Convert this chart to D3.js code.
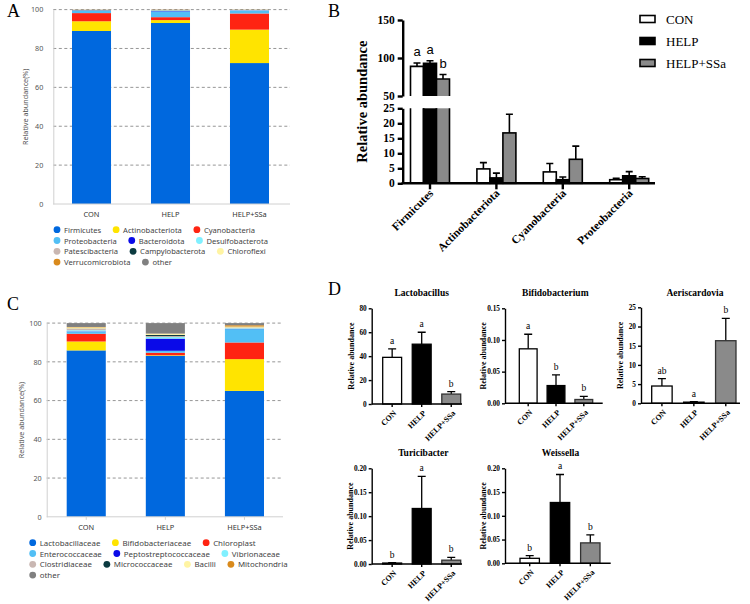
<!DOCTYPE html>
<html><head><meta charset="utf-8">
<script src="https://cdn.jsdelivr.net/npm/d3@7"></script>
<style>body{margin:0;background:#fff}svg{display:block}</style>
</head><body>
<svg id="c" width="750" height="604"></svg>
<script>
// ---------------- DATA ----------------
const groups = ["CON", "HELP", "HELP+SSa"];

// Panel A: phylum-level stacked composition (%)
const phylumNames = ["Firmicutes","Actinobacteriota","Cyanobacteria","Proteobacteria","Bacteroidota","Desulfobacterota","Patescibacteria","Campylobacterota","Chloroflexi","Verrucomicrobiota","other"];
const phylumCON  = [89.0, 5.0, 4.2, 1.2, 0.1, 0.1, 0.1, 0.1, 0.05, 0.05, 0.1];
const phylumHELP = [93.1, 1.5, 1.5, 3.0, 0.2, 0.2, 0.1, 0.1, 0.1, 0.1, 0.1];
const phylumSSa  = [72.5, 17.2, 8.3, 1.5, 0.1, 0.1, 0.1, 0.05, 0.05, 0.05, 0.05];

// Panel C: family-level stacked composition (%)
const familyNames = ["Lactobacillaceae","Bifidobacteriaceae","Chloroplast","Enterococcaceae","Peptostreptococcaceae","Vibrionaceae","Clostridiaceae","Micrococcaceae","Bacilli","Mitochondria","other"];
const familyCON  = [85.9, 4.6, 4.0, 1.0, 0.2, 0.6, 0.8, 0.1, 0.6, 0.2, 2.0];
const familyHELP = [83.1, 0.3, 1.3, 1.0, 6.3, 0.8, 0.5, 0.6, 0.6, 0.1, 5.4];
const familySSa  = [65.0, 16.4, 8.6, 6.9, 0.1, 0.3, 0.3, 0.1, 0.5, 0.7, 1.1];
const stackTicks = [0, 20, 40, 60, 80, 100];

// Panel B: top phyla, mean and SD
const topPhyla = ["Firmicutes","Actinobacteriota","Cyanobacteria","Proteobacteria"];
const bMeanCON  = [89.0, 4.8, 3.8, 1.2];
const bErrCON   = [4.5, 2.1, 2.8, 0.5];
const bMeanHELP = [93.0, 1.8, 1.2, 2.5];
const bErrHELP  = [3.3, 1.6, 0.9, 1.4];
const bMeanSSa  = [72.3, 16.8, 8.0, 1.6];
const bErrSSa   = [5.9, 6.2, 4.4, 0.6];
const bLettersFirmicutes = ["a", "a", "b"];
const bTicksUpper = [50, 100, 150];
const bTicksLower = [0, 5, 10, 15, 20, 25];

// Panel D: genera
const genera = ["Lactobacillus","Bifidobacterium","Aeriscardovia","Turicibacter","Weissella"];
const dMeans = [[39.0, 50.0, 8.3], [0.086, 0.028, 0.006], [4.5, 0.3, 16.3], [0.002, 0.116, 0.008], [0.0105, 0.128, 0.043]];
const dErrors = [[7.0, 10.0, 2.0], [0.023, 0.017, 0.005], [1.9, 0.15, 5.8], [0.001, 0.067, 0.006], [0.0055, 0.059, 0.017]];
const dLetters = [["a","a","b"], ["a","b","b"], ["ab","a","b"], ["b","a","b"], ["b","a","b"]];
const dTicks = [[0,20,40,60,80], [0,0.05,0.10,0.15], [0,5,10,15,20,25], [0,0.05,0.10,0.15,0.20], [0,0.05,0.10,0.15,0.20]];

// ---------------- STYLE ----------------
const palette = ["#0068de","#ffe400","#ff2412","#52bff5","#0a0ae8","#80f0ff","#c9b7b2","#0b3a40","#fff4a3","#d98a1c","#808080"];
const groupFill = ["#ffffff", "#000000", "#8a8a8a"];
const serif = "'Liberation Serif','Times New Roman',serif";
const sans = "'Noto Sans','Open Sans',sans-serif";
const svg = d3.select("#c");

// ---------------- STACKED PANELS (A, C) ----------------
function stackedPanel(o) {
  const g = svg.append("g");
  const y = d3.scaleLinear().domain([0, 100]).range([o.yBase, o.yTop]);
  const x = d3.scaleBand().domain(groups).range([o.r0, o.r1]).paddingInner(0.506);

  g.selectAll("line.grid").data(stackTicks.slice(1)).join("line")
    .attr("x1", o.x0).attr("x2", o.xEnd)
    .attr("y1", d => y(d)).attr("y2", d => y(d))
    .attr("stroke", "#8a8a8a").attr("stroke-width", 0.9).attr("stroke-dasharray", "3,2.5");

  const rows = groups.map((gr, i) => {
    const r = { group: gr };
    o.names.forEach((n, j) => r[n] = o.values[i][j]);
    return r;
  });
  const series = d3.stack().keys(o.names)(rows);
  g.selectAll("g.s").data(series).join("g").attr("fill", (d, i) => palette[i])
    .selectAll("rect").data(d => d).join("rect")
    .attr("x", d => x(d.data.group)).attr("width", x.bandwidth())
    .attr("y", d => y(d[1])).attr("height", d => Math.max(0, y(d[0]) - y(d[1])));

  const ya = g.append("g").attr("transform", `translate(${o.x0},0)`)
    .call(d3.axisLeft(y).tickValues(stackTicks).tickSize(0).tickPadding(o.tickPad));
  ya.select(".domain").attr("stroke", "#d0d0d0");
  ya.selectAll("text").attr("font-family", sans).attr("font-size", 7.2).attr("fill", "#555");

  const xa = g.append("g").attr("transform", `translate(0,${o.yBase})`)
    .call(d3.axisBottom(x).tickSize(o.xTick).tickPadding(o.xPad).tickSizeOuter(0));
  xa.select(".domain").attr("d", `M${o.x0},0H${o.xEnd}`).attr("stroke", "#d0d0d0");
  xa.selectAll("line").attr("stroke", "#d0d0d0");
  xa.selectAll("text").attr("font-family", sans).attr("font-size", 7.4).attr("fill", "#333");

  g.append("text").attr("transform", `translate(${o.yLabelX},${(o.yBase + o.yTop) / 2}) rotate(-90)`)
    .attr("text-anchor", "middle").attr("dominant-baseline", "central")
    .attr("font-family", sans).attr("font-size", 7.2).attr("fill", "#555")
    .text("Relative abundance(%)");

  // legend: flowing rows
  let idx = 0;
  o.legRows.forEach((n, r) => {
    let cx = o.legX0;
    const yy = o.legY + r * o.legDy;
    for (let q = 0; q < n; q++, idx++) {
      g.append("circle").attr("cx", cx).attr("cy", yy).attr("r", 3.4).attr("fill", palette[idx]);
      const t = g.append("text").attr("x", cx + 7).attr("y", yy).attr("dominant-baseline", "central")
        .attr("font-family", sans).attr("font-size", o.legFont).attr("fill", "#444").text(o.names[idx]);
      cx = cx + 7 + t.node().getComputedTextLength() + 15;
    }
  });
}

stackedPanel({ names: phylumNames, values: [phylumCON, phylumHELP, phylumSSa],
  x0: 53.3, xEnd: 290, r0: 72, r1: 269, yBase: 204, yTop: 9.6, tickPad: 10, xTick: 0, xPad: 8,
  yLabelX: 25, legY: 229.7, legDy: 10.8, legX0: 57, legRows: [3, 3, 3, 2], legFont: 7.6 });

stackedPanel({ names: familyNames, values: [familyCON, familyHELP, familySSa],
  x0: 46.7, xEnd: 283, r0: 66.7, r1: 264, yBase: 516.8, yTop: 323.1, tickPad: 5, xTick: 3, xPad: 5,
  yLabelX: 21, legY: 542.7, legDy: 10.8, legX0: 32.7, legRows: [3, 3, 4, 1], legFont: 7.9 });

// ---------------- PANEL B ----------------
(function () {
  const g = svg.append("g");
  const xB = d3.scaleBand().domain(topPhyla).range([396.8, 662.4]);
  const xIn = d3.scaleBand().domain(groups).range([0, 39]);
  const yUp = d3.scaleLinear().domain([50, 150]).range([96, 20]);
  const yLo = d3.scaleLinear().domain([0, 25]).range([183.3, 108.3]);
  const means = [bMeanCON, bMeanHELP, bMeanSSa];
  const errs = [bErrCON, bErrHELP, bErrSSa];

  const bars = [];
  topPhyla.forEach((p, i) => groups.forEach((gr, j) => bars.push({ p, gr, j, v: means[j][i], e: errs[j][i] })));
  const bx = d => xB(d.p) + xB.bandwidth() / 2 - 19.5 + xIn(d.gr);
  const w = xIn.bandwidth();

  bars.forEach(d => {
    const sc = d.v > 50 ? yUp : yLo;
    const cx = bx(d) + w / 2;
    g.append("path").attr("d", `M${cx},${sc(d.v)}V${sc(d.v + d.e)}M${cx - 3.5},${sc(d.v + d.e)}H${cx + 3.5}`)
      .attr("stroke", "#000").attr("stroke-width", 1.6).attr("fill", "none");
  });

  bars.forEach(d => {
    const x0 = bx(d);
    if (d.v > 25) {
      g.append("rect").attr("x", x0).attr("width", w).attr("y", yLo(25)).attr("height", yLo(0) - yLo(25)).attr("fill", groupFill[d.j]);
      g.append("path").attr("d", `M${x0},${yLo(25)}V${yLo(0)}H${x0 + w}V${yLo(25)}`)
        .attr("fill", "none").attr("stroke", "#000").attr("stroke-width", 1.6);
      g.append("rect").attr("x", x0).attr("width", w).attr("y", yUp(d.v)).attr("height", yUp(50) - yUp(d.v)).attr("fill", groupFill[d.j]);
      g.append("path").attr("d", `M${x0},${yUp(50)}V${yUp(d.v)}H${x0 + w}V${yUp(50)}`)
        .attr("fill", "none").attr("stroke", "#000").attr("stroke-width", 1.6);
    } else {
      g.append("rect").attr("x", x0).attr("width", w).attr("y", yLo(d.v)).attr("height", yLo(0) - yLo(d.v))
        .attr("fill", groupFill[d.j]).attr("stroke", "#000").attr("stroke-width", 1.6);
    }
  });

  groups.forEach((gr, j) => {
    const d = { p: topPhyla[0], gr };
    g.append("text").attr("x", bx(d) + w / 2).attr("y", yUp(means[j][0] + errs[j][0]) - 7)
      .attr("text-anchor", "middle").attr("font-family", "'Liberation Sans',Arial,sans-serif")
      .attr("font-size", 13).text(bLettersFirmicutes[j]);
  });

  const styleAxis = a => {
    a.selectAll("path,line").attr("stroke", "#000").attr("stroke-width", 2.4);
    a.selectAll("text").attr("font-family", serif).attr("font-weight", "bold").attr("font-size", 11.5).attr("fill", "#000");
  };
  const ya1 = g.append("g").attr("transform", "translate(402.7,0)")
    .call(d3.axisLeft(yUp).tickValues(bTicksUpper).tickSize(5).tickSizeOuter(0).tickPadding(3).tickFormat(d3.format("d")));
  styleAxis(ya1);
  const ya2 = g.append("g").attr("transform", "translate(402.7,0)")
    .call(d3.axisLeft(yLo).tickValues(bTicksLower).tickSize(5).tickSizeOuter(0).tickPadding(3).tickFormat(d3.format("d")));
  styleAxis(ya2);

  const xa = g.append("g").attr("transform", "translate(0,183.3)")
    .call(d3.axisBottom(xB).tickSize(6).tickSizeOuter(0).tickFormat(""));
  xa.select(".domain").attr("d", "M401.5,0H655");
  styleAxis(xa);
  topPhyla.forEach(p => {
    const cx = xB(p) + xB.bandwidth() / 2;
    g.append("text").attr("transform", `translate(${cx + 4},${194}) rotate(-45)`)
      .attr("text-anchor", "end").attr("font-family", serif).attr("font-weight", "bold").attr("font-size", 11.5).text(p);
  });

  g.append("text").attr("transform", `translate(362,${(20 + 183.3) / 2}) rotate(-90)`)
    .attr("text-anchor", "middle").attr("dominant-baseline", "central")
    .attr("font-family", serif).attr("font-weight", "bold").attr("font-size", 14.5).text("Relative abundance");

  const lg = g.selectAll("g.bl").data(groups).join("g").attr("transform", (d, i) => `translate(0,${19 + i * 22})`);
  lg.append("rect").attr("x", 640).attr("y", -3.5).attr("width", 15).attr("height", 7)
    .attr("fill", (d, i) => groupFill[i]).attr("stroke", "#000").attr("stroke-width", 1.6);
  lg.append("text").attr("x", 666).attr("y", 0).attr("dominant-baseline", "central")
    .attr("font-family", serif).attr("font-size", 13).text(d => d);
})();

// ---------------- PANEL D ----------------
const dLayout = [
  { x0: 371.7, r0: 382.7, r1: 460.7, xEnd: 462,   yBase: 404,   yTop: 308.3, tx: 421.7, ty: 292.7, lx: 351.5 },
  { x0: 505,   r0: 519.3, r1: 592.7, xEnd: 602.7, yBase: 403.3, yTop: 308.3, tx: 555.3, ty: 292.7, lx: 483.5 },
  { x0: 641,   r0: 651.7, r1: 736,   xEnd: 740,   yBase: 403.3, yTop: 307.3, tx: 695,   ty: 292.7, lx: 620.5 },
  { x0: 371.7, r0: 382.7, r1: 460.7, xEnd: 462,   yBase: 564,   yTop: 468.3, tx: 423.3, ty: 453.3, lx: 350.5 },
  { x0: 505,   r0: 520,   r1: 600,   xEnd: 610.7, yBase: 563.3, yTop: 468.3, tx: 560.5, ty: 453.3, lx: 483.5 }
];
genera.forEach((name, k) => {
  const L = dLayout[k];
  const g = svg.append("g");
  const ticks = dTicks[k];
  const y = d3.scaleLinear().domain([0, ticks[ticks.length - 1]]).range([L.yBase, L.yTop]);
  const x = d3.scaleBand().domain(groups).range([L.r0, L.r1]).paddingInner(0.36);
  const fmt = ticks[ticks.length - 1] < 1 ? d3.format(".2f") : d3.format("d");

  groups.forEach((gr, j) => {
    const m = dMeans[k][j], e = dErrors[k][j];
    const cx = x(gr) + x.bandwidth() / 2;
    g.append("path").attr("d", `M${cx},${y(m)}V${y(m + e)}M${cx - 4},${y(m + e)}H${cx + 4}`)
      .attr("stroke", "#000").attr("stroke-width", 1.3).attr("fill", "none");
    g.append("rect").attr("x", x(gr)).attr("width", x.bandwidth()).attr("y", y(m)).attr("height", y(0) - y(m))
      .attr("fill", groupFill[j]).attr("stroke", j === 2 ? "#333" : "#000").attr("stroke-width", 1.3);
    g.append("text").attr("x", cx).attr("y", y(m + e) - 5).attr("text-anchor", "middle")
      .attr("font-family", serif).attr("font-size", 9.5).text(dLetters[k][j]);
    g.append("text").attr("transform", `translate(${cx + 3},${L.yBase + 8}) rotate(-45)`)
      .attr("text-anchor", "end").attr("dy", "0.3em")
      .attr("font-family", serif).attr("font-weight", "bold").attr("font-size", 8).text(gr);
  });

  const ya = g.append("g").attr("transform", `translate(${L.x0},0)`)
    .call(d3.axisLeft(y).tickValues(ticks).tickSize(3).tickSizeOuter(0).tickPadding(2).tickFormat(fmt));
  const xa = g.append("g").attr("transform", `translate(0,${L.yBase})`)
    .call(d3.axisBottom(x).tickSize(3).tickSizeOuter(0).tickFormat(""));
  xa.select(".domain").attr("d", `M${L.x0},0H${L.xEnd}`);
  [ya, xa].forEach(a => {
    a.selectAll("path,line").attr("stroke", "#000").attr("stroke-width", 1.4);
    a.selectAll("text").attr("font-family", serif).attr("font-weight", "bold").attr("font-size", 7.3).attr("fill", "#000");
  });

  g.append("text").attr("x", L.tx).attr("y", L.ty).attr("text-anchor", "middle").attr("dominant-baseline", "central")
    .attr("font-family", serif).attr("font-weight", "bold").attr("font-size", 9.5).text(name);
  g.append("text").attr("transform", `translate(${L.lx},${(L.yBase + L.yTop) / 2}) rotate(-90)`)
    .attr("text-anchor", "middle").attr("dominant-baseline", "central")
    .attr("font-family", serif).attr("font-weight", "bold").attr("font-size", 8).text("Relative abundance");
});

// ---------------- PANEL LETTERS ----------------
[["A", 7, 17], ["B", 328, 17], ["C", 7, 310], ["D", 328, 295]].forEach(([t, x, yy]) =>
  svg.append("text").attr("x", x).attr("y", yy).attr("font-family", serif).attr("font-size", 18).text(t));
</script>
</body></html>
